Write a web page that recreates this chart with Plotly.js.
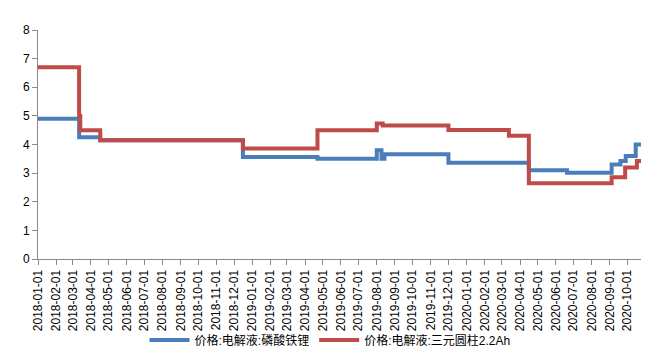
<!DOCTYPE html>
<html>
<head>
<meta charset="utf-8">
<script src="https://cdn.plot.ly/plotly-3.0.1.min.js"></script>
<style>
html,body{margin:0;padding:0;background:#fff;}
#chart{width:660px;height:359px;}
</style>
</head>
<body>
<div id="chart"></div>
<script>
// Series names
const seriesNames = ['价格:电解液:磷酸铁锂', '价格:电解液:三元圆柱2.2Ah'];

// LFP electrolyte price (step changes)
const blueDates = ['2018-01-01','2018-03-12','2018-04-17','2018-12-16','2019-04-22','2019-08-01','2019-08-09','2019-08-14','2019-12-01','2020-04-16','2020-06-20','2020-09-04','2020-09-19','2020-09-28','2020-10-15','2020-10-24'];
const blueVals  = [4.9, 4.25, 4.15, 3.56, 3.5, 3.8, 3.5, 3.66, 3.36, 3.1, 3.01, 3.3, 3.42, 3.6, 4.0, 4.0];

// Ternary cylindrical 2.2Ah electrolyte price (step changes)
const redDates = ['2018-01-01','2018-03-12','2018-03-14','2018-04-17','2018-12-16','2019-04-22','2019-08-01','2019-08-11','2019-12-01','2020-03-13','2020-04-16','2020-09-04','2020-09-27','2020-10-17','2020-10-24'];
const redVals  = [6.7, 5.0, 4.5, 4.15, 3.86, 4.5, 4.73, 4.66, 4.51, 4.31, 2.65, 2.86, 3.2, 3.42, 3.42];

// Month tick labels
const tickLabels = ['2018-01-01','2018-02-01','2018-03-01','2018-04-01','2018-05-01','2018-06-01','2018-07-01','2018-08-01','2018-09-01','2018-10-01','2018-11-01','2018-12-01',
  '2019-01-01','2019-02-01','2019-03-01','2019-04-01','2019-05-01','2019-06-01','2019-07-01','2019-08-01','2019-09-01','2019-10-01','2019-11-01','2019-12-01',
  '2020-01-01','2020-02-01','2020-03-01','2020-04-01','2020-05-01','2020-06-01','2020-07-01','2020-08-01','2020-09-01','2020-10-01'];

const font = 'Liberation Sans, Arial, "Noto Sans CJK SC", sans-serif';

const traces = [
  {x: blueDates, y: blueVals, name: seriesNames[0], type: 'scatter', mode: 'lines',
   line: {color: '#4a7ebb', width: 4, shape: 'hv'}},
  {x: redDates, y: redVals, name: seriesNames[1], type: 'scatter', mode: 'lines',
   line: {color: '#be4b48', width: 4, shape: 'hv'}}
];

const layout = {
  width: 660, height: 359,
  margin: {l: 38, r: 19, t: 30, b: 100, autoexpand: false},
  paper_bgcolor: '#fff', plot_bgcolor: '#fff',
  font: {family: font, size: 12, color: '#000'},
  showlegend: true,
  legend: {orientation: 'h', x: 0.5, xref: 'container', xanchor: 'center',
           y: 0.053, yref: 'container', yanchor: 'middle', bgcolor: 'rgba(0,0,0,0)',
           font: {family: font, size: 12, color: '#000'}, itemwidth: 40, tracegroupgap: 0},
  xaxis: {
    type: 'date', range: ['2018-01-01', '2020-10-24'], automargin: false,
    tickmode: 'array', tickvals: tickLabels, ticktext: tickLabels,
    tickangle: -90, ticks: 'outside', ticklen: 5, tickcolor: '#898989',
    showline: true, linecolor: '#898989', linewidth: 1, showgrid: false, zeroline: false,
    tickfont: {family: font, size: 12, color: '#000'}, fixedrange: true
  },
  yaxis: {
    range: [0, 8], dtick: 1, tick0: 0, ticks: 'outside', ticklen: 5, tickcolor: '#898989',
    showline: true, linecolor: '#898989', linewidth: 1, showgrid: false, zeroline: false, automargin: false,
    tickfont: {family: font, size: 12, color: '#000'}
  }
};

Plotly.newPlot('chart', traces, layout, {displayModeBar: false, staticPlot: true});
</script>
</body>
</html>
